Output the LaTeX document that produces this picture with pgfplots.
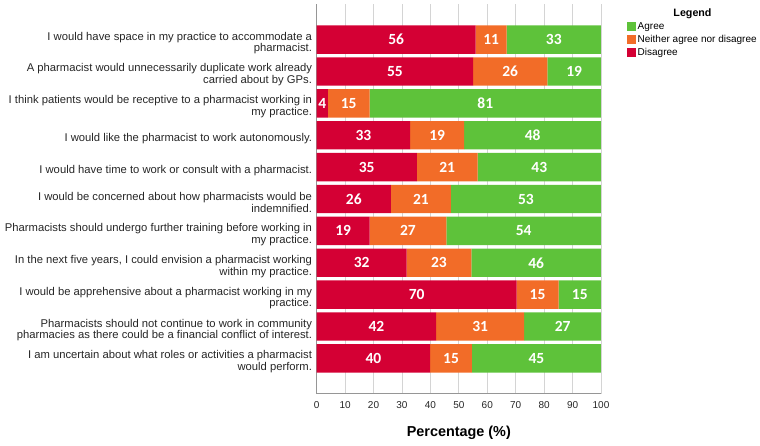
\documentclass[border=0pt]{standalone}
\usepackage{pgfplots}
\usepackage{pgfplotstable}
\pgfplotsset{compat=1.18}
\usepackage{fontspec}
\setmainfont{Liberation Sans}
\newfontfamily\barfont{Carlito}
\definecolor{cDis}{RGB}{212,0,52}
\definecolor{cNeu}{RGB}{242,108,40}
\definecolor{cAgr}{RGB}{94,194,58}
\definecolor{gridc}{RGB}{212,212,212}
\definecolor{axc}{RGB}{150,150,150}

% plotted lengths (labels are the rounded values)
\pgfplotstableread{
idx d n a
1 55.9 10.9 33.2
2 55.0 26.1 18.9
3 3.9 14.7 81.4
4 32.9 19.0 48.1
5 35.2 21.4 43.4
6 26.1 21.1 52.8
7 18.6 27.0 54.4
8 31.6 22.8 45.6
9 70.3 14.8 14.9
10 42.0 31.0 27.0
11 39.9 14.7 45.4
}\data
\pgfplotstablecreatecol[create col/expr={\thisrow{d}/2}]{md}\data
\pgfplotstablecreatecol[create col/expr={\thisrow{d}+\thisrow{n}/2}]{mn}\data
\pgfplotstablecreatecol[create col/expr={\thisrow{d}+\thisrow{n}+\thisrow{a}/2}]{ma}\data

\pgfplotsset{
  frame/.style={scale only axis, width=284.3bp, height=389bp,
    xmin=0, xmax=100, ymin=-0.1, ymax=12.1, y dir=reverse},
  lab/.style={draw=none,
    nodes near coords={\pgfmathprintnumber[fixed,precision=0,assume math mode=true]{\pgfplotspointmeta}},
    point meta=explicit,
    every node near coord/.append style={anchor=center, text=white, inner sep=0pt,
      font=\barfont\bfseries\fontsize{15.5bp}{16bp}\selectfont}},
}

\begin{document}
\begin{tikzpicture}
\begin{axis}[frame, name=ax,
  xbar stacked, bar width=0.89,
  axis x line*=bottom, axis y line*=left,
  x axis line style={-, draw=axc, line width=0.8bp},
  y axis line style={-, draw=axc, line width=0.8bp},
  xmajorgrids, major grid style={gridc, line width=0.8bp},
  xtick={0,10,...,100}, ytick={1,...,11},
  major tick length=0pt,
  /pgf/number format/assume math mode=true,
  xticklabel style={anchor=center, yshift=-11.5bp, text=black!85,
    font=\fontsize{10bp}{12bp}\selectfont},
  yticklabel style={align=right, anchor=east, inner sep=0pt, xshift=-4.5bp, yshift=-3.5bp,
    text=black!85, font=\fontsize{11.25bp}{11.8bp}\selectfont},
  yticklabels={
    {I would have space in my practice to accommodate a\\pharmacist.},
    {A pharmacist would unnecessarily duplicate work already\\carried about by GPs.},
    {I think patients would be receptive to a pharmacist working in\\my practice.},
    {I would like the pharmacist to work autonomously.},
    {I would have time to work or consult with a pharmacist.},
    {I would be concerned about how pharmacists would be\\indemnified.},
    {Pharmacists should undergo further training before working in\\my practice.},
    {In the next five years, I could envision a pharmacist working\\within my practice.},
    {I would be apprehensive about a pharmacist working in my\\practice.},
    {Pharmacists should not continue to work in community\\pharmacies as there could be a financial conflict of interest.},
    {I am uncertain about what roles or activities a pharmacist\\would perform.}
  },
  xlabel={Percentage (\%)},
  every axis x label/.style={at={(axis description cs:0.5,0)}, anchor=center, yshift=-39bp,
    font=\bfseries\fontsize{14.4bp}{16bp}\selectfont},
  reverse legend,
  legend cell align=left,
  legend image code/.code={\fill[#1] (0bp,-4.5bp) rectangle (9bp,4.5bp);},
  legend style={at={(1,1)}, anchor=north west, xshift=26bp, yshift=-15.5bp,
    draw=none, fill=none, inner sep=0pt, row sep=0pt,
    font=\fontsize{10bp}{11bp}\selectfont,
    nodes={inner xsep=1.5bp, inner ysep=1.75bp, text height=7.5bp, text depth=2bp}},
]
\addplot[fill=cDis, draw=none] table[x=d, y=idx] {\data};
\addlegendentry{Disagree}
\addplot[fill=cNeu, draw=none] table[x=n, y=idx] {\data};
\addlegendentry{Neither agree nor disagree}
\addplot[fill=cAgr, draw=none] table[x=a, y=idx] {\data};
\addlegendentry{Agree}
\end{axis}
\begin{axis}[frame, hide axis]
\addplot[lab] table[x=md, y=idx, meta=d] {\data};
\addplot[lab] table[x=mn, y=idx, meta=n] {\data};
\addplot[lab] table[x=ma, y=idx, meta=a] {\data};
\end{axis}
\node[anchor=base, font=\bfseries\fontsize{10.7bp}{12bp}\selectfont]
  at ([xshift=91.5bp, yshift=-12bp]ax.north east) {Legend};
\pgfresetboundingbox
\path[use as bounding box] ([xshift=-316.7bp, yshift=-52.5bp]ax.south west)
  rectangle ([xshift=443.3bp, yshift=393.5bp]ax.south west);
\end{tikzpicture}
\end{document}
